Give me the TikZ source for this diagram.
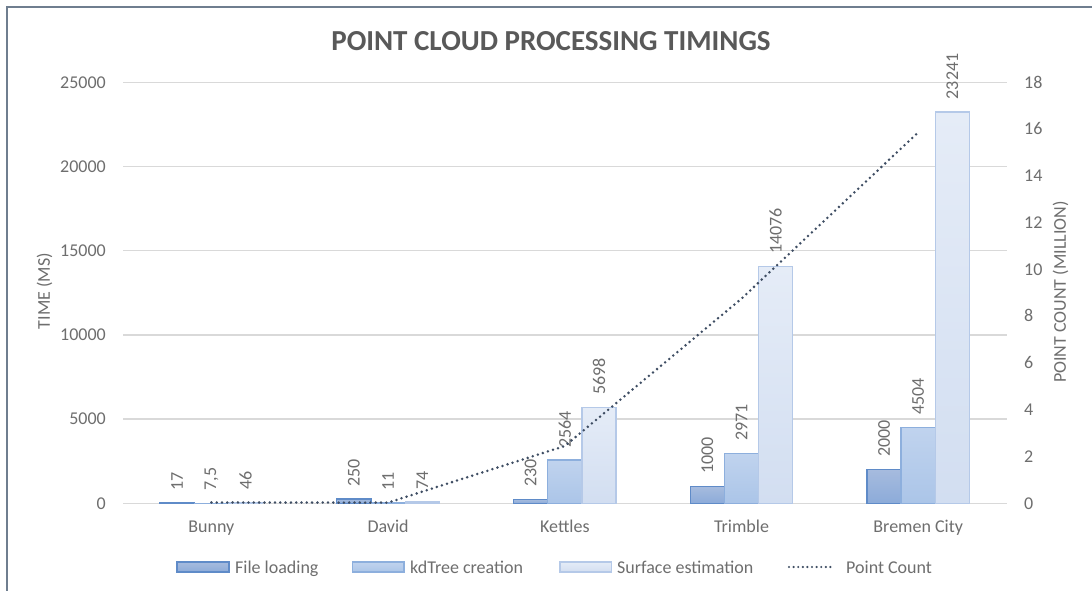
\documentclass[tikz,border=0pt]{standalone}
\usepackage{fontspec}
\setmainfont{Carlito}
\definecolor{framecol}{HTML}{6F7E8F}
\definecolor{gridcol}{HTML}{D9D9D9}
\definecolor{labcol}{HTML}{6E6E6E}
\definecolor{titlecol}{HTML}{595959}
\definecolor{pccol}{HTML}{3E4D63}
\definecolor{flTop}{HTML}{A6BBDE}
\definecolor{flBot}{HTML}{8CABD9}
\definecolor{flLine}{HTML}{5F8BC8}
\definecolor{kdTop}{HTML}{C0D3EE}
\definecolor{kdBot}{HTML}{ABC5E8}
\definecolor{kdLine}{HTML}{8DAFDD}
\definecolor{seTop}{HTML}{E5ECF7}
\definecolor{seBot}{HTML}{D2DEF1}
\definecolor{seLine}{HTML}{B5C9E8}
\newcommand\fs{\fontsize{18}{21}\selectfont}
% bar: style, left x, value in thousands of ms, label text, label name
\newcommand\plotbar[5]{%
  \path[#1] (#2,503.3) rectangle ({#2+34.2},{503.3-#3*16.842});
  \node[dlabel] (#5) at ({#2+17.1},{503.3-#3*16.842-12.5}) {#4};
}
\begin{document}
\begin{tikzpicture}[x=1pt,y=-1pt,
  fl/.style={top color=flTop,bottom color=flBot,draw=flLine,line width=1.3pt},
  kd/.style={top color=kdTop,bottom color=kdBot,draw=kdLine,line width=1.3pt},
  se/.style={top color=seTop,bottom color=seBot,draw=seLine,line width=1.3pt},
  dlabel/.style={rotate=90,anchor=west,inner sep=0pt,font=\fs,text=labcol},
  ltick/.style={anchor=base east,inner sep=0pt,font=\fs,text=labcol},
  rtick/.style={anchor=base west,inner sep=0pt,font=\fs,text=labcol},
  cat/.style={anchor=base,inner sep=0pt,font=\fs,text=labcol},
  legtext/.style={anchor=base west,inner sep=0pt,font=\fs,text=labcol},
  gridline/.style={draw=gridcol,line width=1.3pt},
  pcline/.style={draw=pccol,line width=2.8pt,line cap=round,dash pattern=on 0pt off 5.3pt}]
\useasboundingbox (0,0) rectangle (1092,591);
\clip (0,0) rectangle (1092,591);
\fill[white] (0,0) rectangle (1092,591);
% chart frame (runs past the page on the right and bottom)
\draw[framecol,line width=2pt] (7,7) rectangle (1110,610);

% title
\node[anchor=base,inner sep=0pt,font=\fontsize{29}{33}\selectfont\bfseries,text=titlecol] (title) at (551,50.7) {POINT CLOUD PROCESSING TIMINGS};

% gridlines and tick labels (step of 5000 ms)
\foreach \t/\v [count=\k] in {0/0,5/5000,10/10000,15/15000,20/20000,25/25000}{
  \draw[gridline] (123,{503.3-\t*16.842}) -- (1006.7,{503.3-\t*16.842});
  \node[ltick] (lt\k) at (106,{503.3-\t*16.842+5.8}) {\v};
}
\foreach \r [count=\k] in {0,2,...,18}{
  \node[rtick] (rt\k) at (1024,{503.3-\r*23.389+5.8}) {\r};
}

% axis titles
\node[rotate=90,inner sep=0pt,font=\fs,text=labcol] (ytitle) at (44.5,291) {TIME (MS)};
\node[rotate=90,inner sep=0pt,font=\fs,text=labcol] (y2title) at (1060.5,292) {POINT COUNT (MILLION)};

% bars with value labels
\plotbar{fl}{160.1}{0.017}{17}{b1a}
\plotbar{kd}{194.3}{0.0075}{7,5}{b1b}
\plotbar{se}{228.5}{0.046}{46}{b1c}
\plotbar{fl}{336.8}{0.250}{250}{b2a}
\plotbar{kd}{371.0}{0.011}{11}{b2b}
\plotbar{se}{405.2}{0.074}{74}{b2c}
\plotbar{fl}{513.5}{0.230}{230}{b3a}
\plotbar{kd}{547.7}{2.564}{2564}{b3b}
\plotbar{se}{581.9}{5.698}{5698}{b3c}
\plotbar{fl}{690.2}{1.000}{1000}{b4a}
\plotbar{kd}{724.4}{2.971}{2971}{b4b}
\plotbar{se}{758.6}{14.076}{14076}{b4c}
\plotbar{fl}{866.9}{2.000}{2000}{b5a}
\plotbar{kd}{901.1}{4.504}{4504}{b5b}
\plotbar{se}{935.3}{23.241}{23241}{b5c}

% category labels
\node[cat] (c1) at (211.4,532) {Bunny};
\node[cat] (c2) at (388.1,532) {David};
\node[cat] (c3) at (564.8,532) {Kettles};
\node[cat] (c4) at (741.5,532) {Trimble};
\node[cat] (c5) at (918.2,532) {Bremen City};

% point count series (secondary axis, millions)
\coordinate (p1) at (211.4,{503.3-0.036*23.389});
\coordinate (p2) at (388.1,{503.3-0.03*23.389});
\coordinate (p3) at (564.8,{503.3-2.45*23.389});
\coordinate (p4) at (741.5,{503.3-8.75*23.389});
\coordinate (p5) at (918.2,{503.3-15.86*23.389});
\draw[pcline] (p1) -- (p2) -- (p3) -- (p4) -- (p5);

% legend
\path[fl] (177,562) rectangle (229,572);
\node[legtext] (l1) at (235,573) {File loading};
\path[kd] (352.5,562) rectangle (404,572);
\node[legtext] (l2) at (410,573) {kdTree creation};
\path[se] (560,562) rectangle (611.5,572);
\node[legtext] (l3) at (617,573) {Surface estimation};
\coordinate (la) at (789,567);
\coordinate (lb) at (831,567);
\draw[pcline,line width=2.4pt,dash pattern=on 0pt off 4.6pt] (la) -- (lb);
\node[legtext] (l4) at (846,573) {Point Count};
\end{tikzpicture}
\end{document}
